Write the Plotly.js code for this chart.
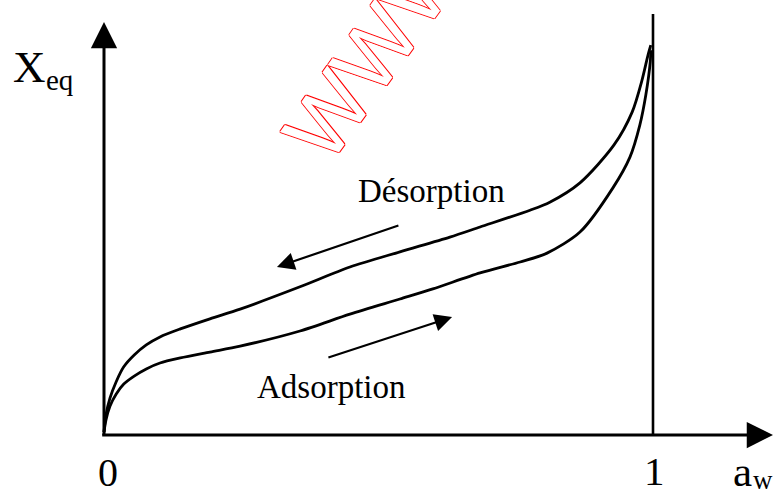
<!DOCTYPE html>
<html>
<head>
<meta charset="utf-8">
<script src="https://cdn.plot.ly/plotly-3.0.1.min.js"></script>
<style>
  html, body { margin: 0; padding: 0; background: #fff; }
  #chart { width: 773px; height: 494px; }
</style>
</head>
<body>
<div id="chart"></div>
<script>
// Sorption isotherm hysteresis: water activity (a_w) vs equilibrium moisture (X_eq)

// Desorption branch (upper curve)
const awDesorption = [0, 0.0036, 0.011, 0.022, 0.036, 0.055, 0.077, 0.102, 0.139, 0.193, 0.248,
  0.357, 0.448, 0.539, 0.630, 0.685, 0.776, 0.812, 0.867, 0.929, 0.962, 0.980, 0.991, 0.996];
const xeqDesorption = [0.007, 0.048, 0.088, 0.126, 0.162, 0.190, 0.214, 0.233, 0.252, 0.276, 0.299,
  0.352, 0.399, 0.435, 0.470, 0.494, 0.534, 0.553, 0.599, 0.689, 0.767, 0.843, 0.903, 0.926];

// Adsorption branch (lower curve)
const awAdsorption = [0, 0.0036, 0.011, 0.022, 0.036, 0.055, 0.077, 0.102, 0.139, 0.193, 0.248,
  0.357, 0.448, 0.539, 0.599, 0.685, 0.758, 0.807, 0.867, 0.927, 0.958, 0.976, 0.987, 0.995, 0.996];
const xeqAdsorption = [0.007, 0.036, 0.069, 0.097, 0.121, 0.140, 0.157, 0.171, 0.183, 0.197, 0.211,
  0.247, 0.287, 0.323, 0.347, 0.385, 0.411, 0.432, 0.482, 0.587, 0.660, 0.736, 0.808, 0.886, 0.914];

// Text labels
const branchNames = ["Désorption", "Adsorption"];
const tickZero = "0";
const tickOne = "1";
const yAxisName = ["X", "eq"];
const xAxisName = ["a", "w"];
const watermarkText = "WWW.";

const ink = "#000";
const serif = "Liberation Serif, Times New Roman, serif";

const curveLine = { color: ink, width: 2.8, shape: "spline", smoothing: 0.8 };

const traces = [
  { x: awDesorption, y: xeqDesorption, name: branchNames[0], mode: "lines", line: curveLine, hoverinfo: "skip" },
  { x: awAdsorption, y: xeqAdsorption, name: branchNames[1], mode: "lines", line: curveLine, hoverinfo: "skip" }
];

function label(text, x, y, size, xanchor) {
  return {
    text: text, x: x, y: y, xref: "x", yref: "y",
    showarrow: false, xanchor: xanchor || "center", yanchor: "middle",
    font: { family: serif, size: size, color: ink }
  };
}

function arrow(x0, y0, x1, y1, width, size) {
  return {
    x: x1, y: y1, ax: x0, ay: y0, xref: "x", yref: "y", axref: "x", ayref: "y",
    text: "", showarrow: true, arrowhead: 2, arrowwidth: width, arrowsize: size,
    arrowcolor: ink, standoff: 0, startstandoff: 0
  };
}

const annotations = [
  // axes with arrowheads
  arrow(0, -0.004, 0, 0.981, 3, 1.75),
  arrow(-0.006, 0, 1.2186, 0, 3, 1.75),
  // direction arrows along the branches
  arrow(0.539, 0.499, 0.315, 0.399, 2.2, 1.6),
  arrow(0.406, 0.183, 0.634, 0.280, 2.2, 1.6),
  // branch names
  label(branchNames[0], 0.5974, 0.5796, 33),
  label(branchNames[1], 0.4144, 0.114, 33),
  // tick labels
  label(tickZero, 0.0073, -0.089, 40),
  label(tickOne, 1.0036, -0.086, 41),
  // axis names with subscripts
  label(yAxisName[0], -0.1694, 0.8746, 45, "left"),
  label(yAxisName[1], -0.1093, 0.8428, 29, "left"),
  label(xAxisName[0], 1.1421, -0.086, 43, "left"),
  label(xAxisName[1], 1.1785, -0.106, 27, "left"),
  // outlined watermark
  {
    text: watermarkText, x: 0.5053, y: 0.9366, xref: "x", yref: "y",
    showarrow: false, textangle: -54.5, xanchor: "center", yanchor: "middle",
    font: {
      family: "Liberation Sans, Arial, sans-serif", size: 87, color: "#ffffff",
      shadow: "1px 0 0 #ff0000, -1px 0 0 #ff0000, 0 1px 0 #ff0000, 0 -1px 0 #ff0000"
    }
  }
];

const layout = {
  width: 773, height: 494,
  margin: { l: 0, r: 0, t: 0, b: 0, pad: 0 },
  paper_bgcolor: "#fff", plot_bgcolor: "#fff",
  showlegend: false,
  xaxis: { range: [-0.18944, 1.21858], visible: false, fixedrange: true },
  yaxis: { range: [-0.14014, 1.03325], visible: false, fixedrange: true },
  shapes: [
    // saturation line at a_w = 1
    { type: "line", xref: "x", yref: "y", x0: 1, x1: 1, y0: 0, y1: 1.0,
      line: { color: ink, width: 2.6 } }
  ],
  annotations: annotations
};

Plotly.newPlot("chart", traces, layout, { staticPlot: true, displayModeBar: false });
</script>
</body>
</html>
